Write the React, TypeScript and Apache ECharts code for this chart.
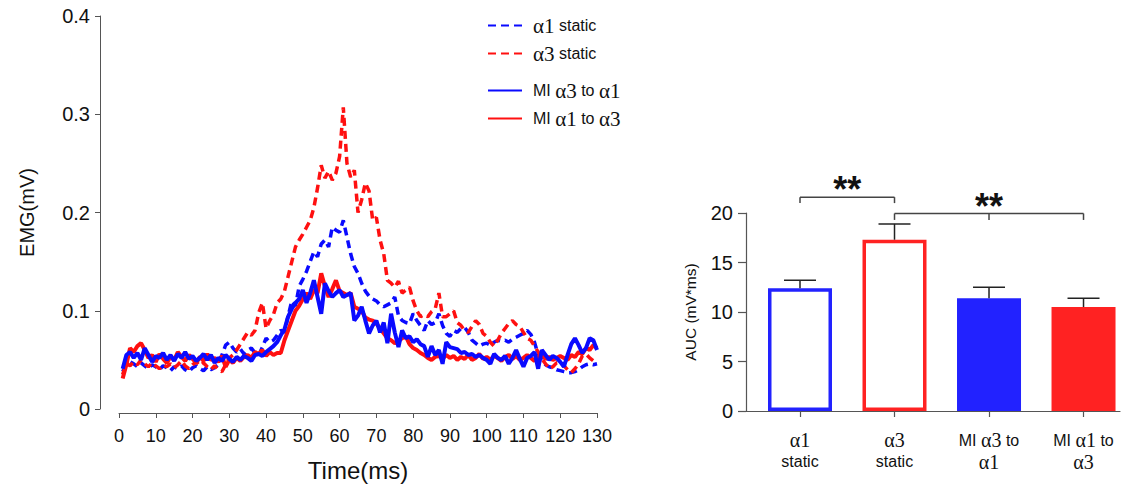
import React, { useEffect, useRef } from "react";
import * as echarts from "echarts";

// sampling times (ms) of the EMG traces
const timeMs = Array.from({ length: 130 }, (_, i) => i + 1);

// EMG (mV) — α1 static (blue dashed)
const alpha1Static = [
  0.038, 0.045, 0.048, 0.046, 0.043, 0.047, 0.044, 0.041, 0.045, 0.043,
  0.040, 0.044, 0.042, 0.039, 0.043, 0.041, 0.044, 0.040, 0.038, 0.042,
  0.044, 0.041, 0.039, 0.043, 0.040, 0.042, 0.045, 0.055, 0.065, 0.068,
  0.062, 0.058, 0.061, 0.056, 0.060, 0.062, 0.057, 0.055, 0.063, 0.072,
  0.068, 0.070, 0.075, 0.080, 0.078, 0.095, 0.110, 0.105, 0.125, 0.132,
  0.140, 0.150, 0.160, 0.155, 0.168, 0.172, 0.165, 0.185, 0.182, 0.180,
  0.192, 0.175, 0.158, 0.145, 0.138, 0.128, 0.120, 0.115, 0.112, 0.110,
  0.106, 0.104, 0.106, 0.108, 0.114, 0.095, 0.090, 0.088, 0.087, 0.097,
  0.090, 0.085, 0.080, 0.090, 0.086, 0.088, 0.097, 0.085, 0.077, 0.074,
  0.080, 0.078, 0.082, 0.083, 0.078, 0.070, 0.067, 0.064, 0.066, 0.067,
  0.065, 0.068, 0.070, 0.069, 0.070, 0.068, 0.071, 0.073, 0.075, 0.077,
  0.080, 0.076, 0.068, 0.055, 0.050, 0.045, 0.043, 0.042, 0.040, 0.039,
  0.038, 0.037, 0.037, 0.038, 0.040, 0.043, 0.045, 0.046, 0.045, 0.046,
];

// EMG (mV) — α3 static (red dashed)
const alpha3Static = [
  0.035, 0.047, 0.044, 0.048, 0.045, 0.050, 0.046, 0.043, 0.047, 0.044,
  0.041, 0.045, 0.043, 0.046, 0.042, 0.045, 0.049, 0.044, 0.041, 0.045,
  0.048, 0.044, 0.047, 0.043, 0.040, 0.044, 0.040, 0.038, 0.045, 0.052,
  0.055, 0.060, 0.066, 0.072, 0.078, 0.075, 0.080, 0.098, 0.108, 0.082,
  0.090, 0.096, 0.108, 0.112, 0.120, 0.135, 0.150, 0.165, 0.172, 0.178,
  0.185, 0.192, 0.205, 0.225, 0.248, 0.235, 0.242, 0.233, 0.240, 0.257,
  0.307, 0.250, 0.236, 0.243, 0.200, 0.213, 0.230, 0.222, 0.192, 0.195,
  0.172, 0.158, 0.131, 0.128, 0.124, 0.130, 0.118, 0.121, 0.124, 0.110,
  0.100, 0.094, 0.096, 0.094, 0.099, 0.102, 0.118, 0.094, 0.094, 0.097,
  0.100, 0.088, 0.085, 0.080, 0.078, 0.084, 0.090, 0.086, 0.077, 0.074,
  0.068, 0.064, 0.070, 0.077, 0.082, 0.087, 0.090, 0.086, 0.084, 0.078,
  0.072, 0.070, 0.064, 0.058, 0.051, 0.046, 0.041, 0.043, 0.047, 0.047,
  0.044, 0.040, 0.037, 0.041, 0.046, 0.054, 0.056, 0.052, 0.049, 0.046,
];

// EMG (mV) — MI α3 to α1 (blue solid)
const miA3toA1 = [
  0.041, 0.055, 0.058, 0.052, 0.057, 0.050, 0.062, 0.055, 0.048, 0.054,
  0.052, 0.057, 0.050, 0.055, 0.049, 0.056, 0.052, 0.058, 0.051, 0.054,
  0.049, 0.052, 0.056, 0.050, 0.055, 0.047, 0.052, 0.049, 0.055, 0.051,
  0.048, 0.053, 0.050, 0.054, 0.052, 0.049, 0.055, 0.056, 0.054, 0.058,
  0.061, 0.064, 0.068, 0.075, 0.081, 0.094, 0.102, 0.108, 0.112, 0.121,
  0.108, 0.118, 0.131, 0.114, 0.097, 0.128, 0.120, 0.114, 0.118, 0.121,
  0.114, 0.116, 0.118, 0.090, 0.095, 0.104, 0.090, 0.077, 0.085, 0.090,
  0.078, 0.088, 0.067, 0.097, 0.078, 0.063, 0.080, 0.072, 0.074, 0.068,
  0.071, 0.066, 0.064, 0.053, 0.064, 0.055, 0.060, 0.046, 0.068, 0.063,
  0.062, 0.061, 0.057, 0.058, 0.055, 0.056, 0.053, 0.055, 0.052, 0.050,
  0.046, 0.056, 0.052, 0.050, 0.054, 0.046, 0.052, 0.060, 0.051, 0.043,
  0.052, 0.054, 0.058, 0.041, 0.060, 0.055, 0.050, 0.054, 0.052, 0.048,
  0.043, 0.055, 0.066, 0.072, 0.065, 0.057, 0.062, 0.072, 0.070, 0.060,
];

// EMG (mV) — MI α1 to α3 (red solid)
const miA1toA3 = [
  0.031, 0.045, 0.062, 0.058, 0.064, 0.067, 0.060, 0.052, 0.055, 0.048,
  0.056, 0.051, 0.047, 0.053, 0.050, 0.058, 0.053, 0.049, 0.055, 0.051,
  0.047, 0.053, 0.049, 0.056, 0.050, 0.052, 0.048, 0.054, 0.043, 0.050,
  0.047, 0.052, 0.049, 0.053, 0.055, 0.052, 0.058, 0.056, 0.060, 0.054,
  0.058, 0.055, 0.057, 0.057, 0.070, 0.080, 0.090, 0.100, 0.105, 0.112,
  0.118, 0.112, 0.121, 0.118, 0.138, 0.125, 0.114, 0.122, 0.131, 0.120,
  0.118, 0.116, 0.118, 0.104, 0.102, 0.100, 0.093, 0.091, 0.090, 0.087,
  0.082, 0.077, 0.072, 0.070, 0.067, 0.069, 0.072, 0.074, 0.066, 0.062,
  0.060, 0.057, 0.055, 0.052, 0.050, 0.053, 0.054, 0.051, 0.055, 0.052,
  0.054, 0.050, 0.053, 0.051, 0.055, 0.050, 0.052, 0.056, 0.051, 0.053,
  0.050, 0.054, 0.052, 0.049, 0.053, 0.055, 0.051, 0.054, 0.050, 0.052,
  0.055, 0.052, 0.049, 0.053, 0.055, 0.051, 0.053, 0.050, 0.052, 0.054,
  0.052, 0.050, 0.055, 0.053, 0.058, 0.056, 0.062, 0.060, 0.065, 0.062,
];

const traceNames = ["α1 static", "α3 static", "MI α3 to α1", "MI α1 to α3"];

// AUC bar chart
const barLine1 = ["α1", "α3", "MI α3 to", "MI α1 to"];
const barLine2 = ["static", "static", "α1", "α3"];
const aucMean = [12.4, 17.3, 11.4, 10.5];
const aucErrTop = [13.2, 18.9, 12.5, 11.4];

// significance brackets
const bracketFrom = [0, 1];
const bracketTo = [1, 3];
const bracketMid = [-1, 2];
const bracketLevel = [21.6, 19.95];
const bracketFoot = [21.0, 19.3];
const bracketTextLevel = [22.35, 20.7];
const bracketText = ["**", "**"];

const BLUE = "#0a0aff";
const RED = "#ff1010";
const BLUE_FILL = "#2222ff";
const RED_FILL = "#ff2222";
const AXIS = "#555555";
const TXT = "#111111";
const SANS = "Liberation Sans, Arial, sans-serif";
const SERIF = "Liberation Serif, Times New Roman, serif";

function rich(text: string): string {
  return text
    .split(" ")
    .map((w) => (w.startsWith("α") ? `{g|${w}}` : `{s|${w}}`))
    .join("{s| }");
}

export default function App() {
  const ref = useRef<HTMLDivElement>(null);

  useEffect(() => {
    if (!ref.current) return;
    const chart = echarts.init(ref.current, null, { renderer: "svg" });

    const lineSeries = [
      { name: traceNames[0], data: alpha1Static, color: BLUE, type: [8, 5], width: 3.5, z: 2 },
      { name: traceNames[1], data: alpha3Static, color: RED, type: [8, 5], width: 3.5, z: 2 },
      { name: traceNames[2], data: miA3toA1, color: BLUE, type: "solid", width: 4, z: 4 },
      { name: traceNames[3], data: miA1toA3, color: RED, type: "solid", width: 4, z: 3 },
    ].map((s) => ({
      name: s.name,
      type: "line",
      xAxisIndex: 0,
      yAxisIndex: 0,
      data: timeMs.map((t, i) => [t, s.data[i]]),
      symbol: "none",
      showSymbol: false,
      z: s.z,
      lineStyle: { color: s.color, width: s.width, type: s.type },
      itemStyle: { color: s.color },
    }));

    const legendRich = {
      g: { fontFamily: SERIF, fontSize: 21, color: TXT },
      s: { fontFamily: SANS, fontSize: 16, color: TXT },
    };

    const barRich = {
      g: { fontFamily: SERIF, fontSize: 20, color: TXT, lineHeight: 22 },
      s: { fontFamily: SANS, fontSize: 16, color: TXT, lineHeight: 20 },
    };

    const legendBase = {
      orient: "vertical",
      left: 487,
      padding: 0,
      itemWidth: 34,
      itemHeight: 14,
      itemGap: 7,
      itemStyle: { opacity: 0 },
      formatter: (n: string) => rich(n),
      textStyle: { rich: legendRich, padding: [0, 0, 0, 6] },
    };

    const option: any = {
      animation: false,
      backgroundColor: "#ffffff",
      legend: [
        { ...legendBase, data: traceNames.slice(0, 2), top: 15 },
        { ...legendBase, data: traceNames.slice(2, 4), top: 80 },
      ],
      grid: [
        { left: 119, top: 16, width: 478, height: 393 },
        { left: 746, top: 213, width: 374, height: 198 },
      ],
      xAxis: [
        {
          type: "value",
          gridIndex: 0,
          min: 0,
          max: 130,
          interval: 10,
          offset: 4,
          axisLine: { onZero: false, lineStyle: { color: AXIS, width: 1 } },
          axisTick: { length: 5, lineStyle: { color: AXIS } },
          axisLabel: { fontSize: 18, color: TXT, fontFamily: SANS, margin: 14 },
          splitLine: { show: false },
          name: "Time(ms)",
          nameLocation: "middle",
          nameGap: 45,
          nameTextStyle: { fontSize: 24, color: TXT, fontFamily: SANS },
        },
        {
          type: "value",
          gridIndex: 1,
          min: -0.5714,
          max: 3.386,
          axisLine: { onZero: false, lineStyle: { color: AXIS, width: 1.2 } },
          axisTick: { length: 6, lineStyle: { color: AXIS, width: 1.2 }, customValues: [0, 1, 2, 3] },
          axisLabel: {
            customValues: [0, 1, 2, 3],
            margin: 18,
            formatter: (v: number) => {
              const i = Math.round(v);
              return `${rich(barLine1[i])}\n${rich(barLine2[i])}`;
            },
            rich: barRich,
          },
          splitLine: { show: false },
        },
      ],
      yAxis: [
        {
          type: "value",
          gridIndex: 0,
          min: 0,
          max: 0.4,
          interval: 0.1,
          offset: 19,
          axisLine: { show: true, onZero: false, lineStyle: { color: AXIS, width: 1 } },
          axisTick: { show: true, length: 5, lineStyle: { color: AXIS } },
          axisLabel: { fontSize: 20, color: TXT, fontFamily: SANS, margin: 10 },
          splitLine: { show: false },
          name: "EMG(mV)",
          nameLocation: "middle",
          nameRotate: 90,
          nameGap: 63,
          nameTextStyle: { fontSize: 20, color: TXT, fontFamily: SANS },
        },
        {
          type: "value",
          gridIndex: 1,
          min: 0,
          max: 20,
          interval: 5,
          axisLine: { show: true, onZero: false, lineStyle: { color: AXIS, width: 1.2 } },
          axisTick: { show: true, length: 8, lineStyle: { color: AXIS, width: 1.2 } },
          axisLabel: { fontSize: 20, color: TXT, fontFamily: SANS, margin: 13 },
          splitLine: { show: false },
          name: "AUC (mV*ms)",
          nameLocation: "middle",
          nameRotate: 90,
          nameGap: 48,
          nameTextStyle: { fontSize: 15.5, color: TXT, fontFamily: SANS },
        },
      ],
      series: [
        ...lineSeries,
        {
          type: "bar",
          xAxisIndex: 1,
          yAxisIndex: 1,
          barWidth: 64,
          z: 2,
          data: aucMean.map((m, i) => ({
            value: [i, m],
            itemStyle:
              i < 2
                ? { color: "#ffffff", borderColor: i === 0 ? BLUE_FILL : RED_FILL, borderWidth: 3.5 }
                : { color: i === 2 ? BLUE_FILL : RED_FILL, borderWidth: 0 },
          })),
        },
        {
          type: "custom",
          xAxisIndex: 1,
          yAxisIndex: 1,
          z: 3,
          data: aucMean.map((m, i) => [i, m]),
          renderItem: (p: any, api: any) => {
            const i = p.dataIndex;
            const lo = api.coord([i, aucMean[i]]);
            const hi = api.coord([i, aucErrTop[i]]);
            const st = { stroke: "#222222", lineWidth: 1.5 };
            return {
              type: "group",
              children: [
                { type: "line", shape: { x1: lo[0], y1: lo[1], x2: hi[0], y2: hi[1] }, style: st },
                { type: "line", shape: { x1: hi[0] - 16, y1: hi[1], x2: hi[0] + 16, y2: hi[1] }, style: st },
              ],
            };
          },
        },
        {
          type: "custom",
          xAxisIndex: 1,
          yAxisIndex: 1,
          z: 3,
          clip: false,
          data: bracketFrom.map((f, i) => [f, bracketLevel[i]]),
          renderItem: (p: any, api: any) => {
            const i = p.dataIndex;
            const a = api.coord([bracketFrom[i], bracketLevel[i]]);
            const b = api.coord([bracketTo[i], bracketLevel[i]]);
            const footY = api.coord([bracketFrom[i], bracketFoot[i]])[1];
            const st = { stroke: "#444444", lineWidth: 1.5 };
            const children: any[] = [
              { type: "line", shape: { x1: a[0], y1: a[1], x2: b[0], y2: b[1] }, style: st },
              { type: "line", shape: { x1: a[0], y1: a[1], x2: a[0], y2: footY }, style: st },
              { type: "line", shape: { x1: b[0], y1: b[1], x2: b[0], y2: footY }, style: st },
            ];
            let tx = (a[0] + b[0]) / 2;
            if (bracketMid[i] >= 0) {
              const m = api.coord([bracketMid[i], bracketLevel[i]]);
              children.push({ type: "line", shape: { x1: m[0], y1: m[1], x2: m[0], y2: footY }, style: st });
              tx = m[0];
            }
            const ty = api.coord([bracketFrom[i], bracketTextLevel[i]])[1];
            children.push({
              type: "text",
              x: tx,
              y: ty,
              style: {
                text: bracketText[i],
                fontSize: 36,
                fontWeight: "bold",
                fontFamily: SANS,
                fill: "#111111",
                align: "center",
                verticalAlign: "middle",
              },
            });
            return { type: "group", children };
          },
        },
      ],
    };

    chart.setOption(option);
    return () => chart.dispose();
  }, []);

  return (
    <div
      ref={ref}
      style={{ position: "fixed", left: 0, top: 0, width: 1124, height: 488, background: "#fff" }}
    />
  );
}
